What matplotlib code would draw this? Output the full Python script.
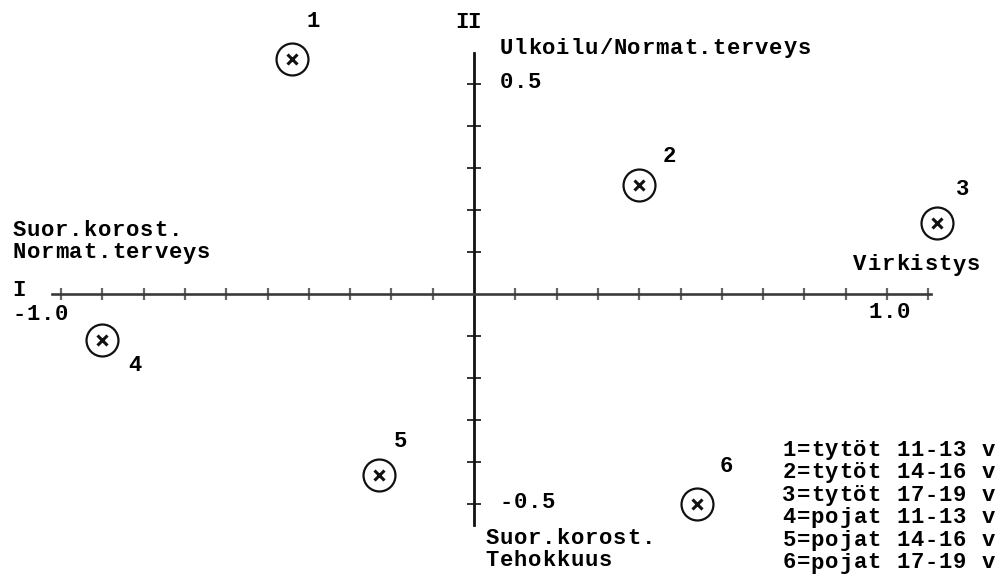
import matplotlib.pyplot as plt
import numpy as np

plt.rcParams['font.family'] = ['Liberation Mono', 'DejaVu Sans Mono']
plt.rcParams['font.weight'] = 'bold'

# group coordinates on dimensions I (x) and II (y)
groups = ['1', '2', '3', '4', '5', '6']
dim1 = [-0.44, 0.40, 1.12, -0.90, -0.23, 0.54]
dim2 = [0.56, 0.26, 0.17, -0.11, -0.43, -0.50]
# where the number sits relative to its marker (pixels)
label_offsets = [(21, 37), (30, 28), (26, 33), (33, -25), (21, 33), (29, 38)]

legend_lines = ['1=tytöt 11-13 v', '2=tytöt 14-16 v', '3=tytöt 17-19 v',
                '4=pojat 11-13 v', '5=pojat 14-16 v', '6=pojat 17-19 v']

x_ticks = [-1.0, -0.9, -0.8, -0.7, -0.6, -0.5, -0.4, -0.3, -0.2, -0.1,
           0.1, 0.2, 0.3, 0.4, 0.5, 0.6, 0.7, 0.8, 0.9, 1.0, 1.1]
y_ticks = [-0.5, -0.4, -0.3, -0.2, -0.1, 0.1, 0.2, 0.3, 0.4, 0.5]

fig = plt.figure(figsize=(10.01, 5.83), dpi=100)
ax = fig.add_axes([0, 0, 1, 1])
ax.set_xlim(-1.148, 1.276)
ax.set_ylim(-0.688, 0.700)

# axes crossing at the origin
for side in ['top', 'right']:
    ax.spines[side].set_visible(False)
ax.spines['bottom'].set_position(('data', 0))
ax.spines['left'].set_position(('data', 0))
ax.spines['bottom'].set_bounds(-1.022, 1.107)
ax.spines['left'].set_bounds(-0.55, 0.574)
ax.spines['bottom'].set_color('#3a3a3a')
ax.spines['bottom'].set_linewidth(1.9)
ax.spines['left'].set_color('#111111')
ax.spines['left'].set_linewidth(2.0)

ax.set_xticks(x_ticks)
ax.set_yticks(y_ticks)
ax.tick_params(axis='x', direction='inout', length=9, width=1.6, color='#666666',
               labelbottom=False)
ax.tick_params(axis='y', direction='inout', length=10, width=1.4, color='#333333',
               labelleft=False)

# markers: circle with a cross
ax.plot(dim1, dim2, 'o', ms=23, mfc='none', mec='#111111', mew=1.6)
ax.plot(dim1, dim2, 'x', ms=7, color='#111111', mew=2.2)
for g, x, y, off in zip(groups, dim1, dim2, label_offsets):
    ax.annotate(g, (x, y), xytext=off, textcoords='offset pixels',
                ha='center', va='center', fontsize=16)

H = 583


def put(px, py, s, pitch=14.2, size=16, center=False):
    # typewriter style: every character on a fixed pitch
    if center:
        px = px - pitch * len(s) / 2
    for i, ch in enumerate(s):
        ax.text(px + i * pitch + pitch / 2, H - py, ch, transform=None,
                fontsize=size, ha='center', va='center')


put(468, 22, 'II', pitch=12.5, center=True)
put(499, 48, 'Ulkoilu/Normat.terveys')
put(499, 82, '0.5')
put(12, 230, 'Suor.korost.')
put(12, 253, 'Normat.terveys')
put(853, 265, 'Virkistys')
put(12, 290, 'I')
put(12, 315, '-1.0')
put(868, 313, '1.0')
put(499, 502, '-0.5')
put(485, 538, 'Suor.korost.')
put(485, 560, 'Tehokkuus')

for i, line in enumerate(legend_lines):
    put(782, 450 + 22.6 * i, line)

fig.savefig('out.png', dpi=100)
